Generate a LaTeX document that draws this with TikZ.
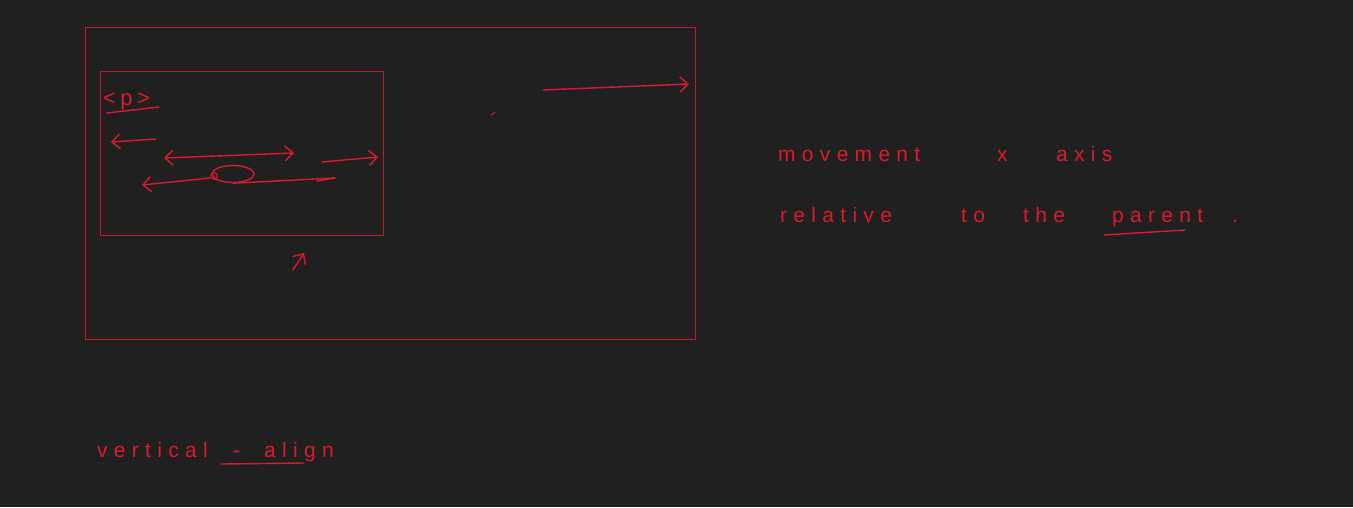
\documentclass[tikz,border=0pt]{standalone}
\usepackage{fontspec}
\usetikzlibrary{arrows.meta,shapes.geometric}
\newfontfamily\hand[LetterSpace=30]{Liberation Sans}
\newfontfamily\handwide[LetterSpace=20]{Liberation Sans}
\definecolor{bg}{HTML}{212020}
\definecolor{ink}{HTML}{DC1A2E}
\definecolor{boxred}{HTML}{C8182C}
\tikzset{
  box/.style={draw=boxred, line width=1.1pt, outer sep=0pt, inner sep=0pt, anchor=north west},
  stroke/.style={draw=ink, line width=1.4pt, line cap=round},
  barb/.style={stroke, -{Straight Barb[length=8pt,width=15pt]}},
  dbarb/.style={stroke, {Straight Barb[length=8pt,width=15pt]}-{Straight Barb[length=8pt,width=15pt]}},
  word/.style={text=ink, inner sep=0pt, anchor=base west, font=\hand\fontsize{21}{23}\selectfont},
}
\begin{document}
\begin{tikzpicture}[x=1pt,y=-1pt]
\fill[bg] (0,0) rectangle (1353,507);
\useasboundingbox (0,0) rectangle (1353,507);
% frames
\node[box, minimum width=610pt, minimum height=312pt] (outer) at (85.05,27.05) {};
\node[box, minimum width=283pt, minimum height=164pt] (inner) at (100.05,71.05) {};
% <p>
\node[word, font=\handwide\fontsize{22}{24}\selectfont] (ptag) at (103,105) {<p>};
\coordinate (pu1) at (107,113); \coordinate (pu2) at (159,107);
\draw[stroke] (pu1) -- (pu2);
% arrows inside inner box
\coordinate (la1) at (156,139); \coordinate (la2) at (111,142);
\draw[barb] (la1) -- (la2);
\coordinate (da1) at (164,158); \coordinate (da2) at (294,153);
\draw[dbarb] (da1) -- (da2);
\coordinate (ra1) at (322,162); \coordinate (ra2) at (378,157);
\draw[barb] (ra1) -- (ra2);
% circle element
\node[draw=ink, line width=1.4pt, ellipse, minimum width=42pt, minimum height=17pt, inner sep=0pt] (ball) at (233,174) {};
\node[draw=ink, line width=1pt, circle, minimum size=7pt, inner sep=0pt] (loop) at (214,176) {};
\coordinate (ba1) at (210,178); \coordinate (ba2) at (142,185);
\draw[barb] (ba1) -- (ba2);
\coordinate (bb2) at (335,178);
\draw[stroke] (ball.south) -- (bb2);
\coordinate (bb3) at (317,181);
\draw[stroke] (bb3) -- (bb2);
% small up arrow
\coordinate (ua1) at (293,270); \coordinate (ua2) at (304,253);
\draw[barb] (ua1) -- (ua2);
% dot and long arrow
\coordinate (dot1) at (491,115); \coordinate (dot2) at (495,112);
\draw[stroke, line width=1pt] (dot1) -- (dot2);
\coordinate (lg1) at (543,90); \coordinate (lg2) at (689,84);
\draw[barb] (lg1) -- (lg2);
% right texts
\node[word] (w1) at (778,161) {movement};
\node[word] (w2) at (997,161) {x};
\node[word] (w3) at (1056,161) {axis};
\node[word] (w4) at (780,222) {relative};
\node[word] (w5) at (961,222) {to};
\node[word] (w6) at (1023,222) {the};
\node[word] (w7) at (1112,222) {parent};
\node[word] (w8) at (1232,222) {.};
\coordinate (pp1) at (1104,235); \coordinate (pp2) at (1185,230);
\draw[stroke] (pp1) -- (pp2);
% bottom text
\node[word] (v1) at (97,457) {vertical};
\node[word] (v2) at (233,457) {-};
\node[word] (v3) at (264,457) {align};
\coordinate (vu1) at (221,464); \coordinate (vu2) at (304,463);
\draw[stroke] (vu1) -- (vu2);
\end{tikzpicture}
\end{document}
